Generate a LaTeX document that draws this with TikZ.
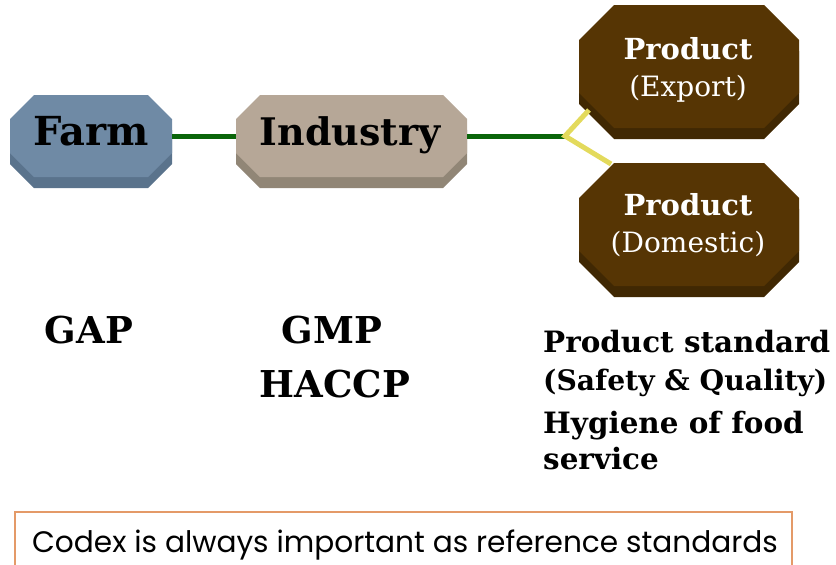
\documentclass[tikz,border=0pt]{standalone}
\usepackage{fontspec}
\setmainfont{DejaVu Serif}
\newfontfamily\codexfont{Poppins}
\definecolor{farmc}{HTML}{6F8AA5}
\definecolor{farmb}{HTML}{5A738C}
\definecolor{indc}{HTML}{B6A797}
\definecolor{indb}{HTML}{918676}
\definecolor{prodc}{HTML}{563504}
\definecolor{prodb}{HTML}{402803}
\definecolor{linkgreen}{HTML}{0A650A}
\definecolor{linkyellow}{HTML}{E3DA5C}
\definecolor{codexorange}{HTML}{E49A68}
\newcommand\octshape[7]{%
  \fill[#7] (#1+#5,#2+11) -- (#3-#5,#2+11) -- (#3,#2+#5+11) -- (#3,#4-#5+11) -- (#3-#5,#4+11) -- (#1+#5,#4+11) -- (#1,#4-#5+11) -- (#1,#2+#5+11) -- cycle;
  \fill[#6] (#1+#5,#2) -- (#3-#5,#2) -- (#3,#2+#5) -- (#3,#4-#5) -- (#3-#5,#4) -- (#1+#5,#4) -- (#1,#4-#5) -- (#1,#2+#5) -- cycle;
}
\begin{document}
\begin{tikzpicture}[x=1pt,y=-1pt,
  boxnode/.style={inner sep=0pt, outer sep=0pt, draw=none},
  bigtxt/.style={font=\bfseries\fontsize{38}{42}\selectfont, anchor=base, inner sep=0pt},
  prodtxt/.style={font=\fontsize{28}{32}\selectfont, text=white, anchor=base, inner sep=0pt},
  prodbold/.style={font=\bfseries\fontsize{29}{32}\selectfont, text=white, anchor=base, inner sep=0pt},
  labtxt/.style={font=\bfseries\fontsize{37}{40}\selectfont, anchor=base, inner sep=0pt},
  stdtxt/.style={font=\bfseries\fontsize{29.4}{32}\selectfont, anchor=base west, inner sep=0pt},
  greenlink/.style={draw=linkgreen, line width=5pt},
  yellowlink/.style={draw=linkyellow, line width=5pt}]
\useasboundingbox (0,0) rectangle (836,565);
% boxes
\octshape{10}{95}{172}{177}{24}{farmc}{farmb}
\octshape{236}{95}{467}{177}{24}{indc}{indb}
\octshape{579}{5}{799}{128}{35}{prodc}{prodb}
\octshape{579}{163}{799}{286}{35}{prodc}{prodb}
\node[boxnode, minimum width=162pt, minimum height=82pt] (farm) at (91,136) {};
\node[boxnode, minimum width=231pt, minimum height=82pt] (industry) at (351.5,136) {};
\node[boxnode, minimum width=220pt, minimum height=123pt] (export) at (689,66.5) {};
\node[boxnode, minimum width=220pt, minimum height=123pt] (domestic) at (689,224.5) {};
\coordinate (split) at (565,136);
\coordinate (expin) at (589,110);
\coordinate (domin) at (611,164);
% connectors
\draw[greenlink] (farm.east) -- (industry.west);
\draw[greenlink] (industry.east) -- (split);
\draw[yellowlink, line join=miter] (expin) -- (split) -- (domin);
% box texts
\node[bigtxt, font=\bfseries\fontsize{40}{44}\selectfont] (farmtxt) at (91,145) {Farm};
\node[bigtxt] (indtxt) at (350,145) {Industry};
\node[prodbold] (exp1) at (688,59) {Product};
\node[prodtxt] (exp2) at (688,96) {(Export)};
\node[prodbold] (dom1) at (688,215) {Product};
\node[prodtxt] (dom2) at (688,252) {(Domestic)};
% labels
\node[labtxt] (gap) at (89,343) {GAP};
\node[labtxt] (gmp) at (332,343) {GMP};
\node[labtxt] (haccp) at (335,397) {HACCP};
\node[stdtxt] (ps1) at (543,352) {Product standard};
\node[stdtxt, font=\bfseries\fontsize{28.2}{32}\selectfont] (ps2) at (543,390) {(Safety \& Quality)};
\node[stdtxt] (hy1) at (543,433) {Hygiene of food};
\node[stdtxt] (hy2) at (543,469) {service};
% codex box
\draw[codexorange, line width=1.5pt] (15,570) -- (15,512) -- (792,512) -- (792,570);
\node[font=\codexfont\fontsize{29.6}{32}\selectfont, anchor=base, inner sep=0pt] (codex) at (405,552) {Codex is always important as reference standards};
\end{tikzpicture}
\end{document}
